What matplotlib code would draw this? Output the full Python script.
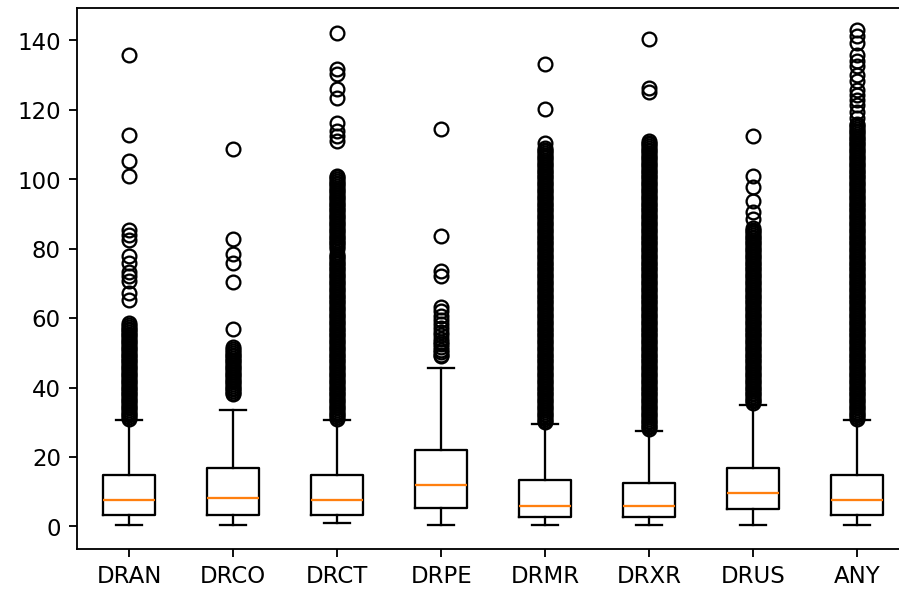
import matplotlib.pyplot as plt

# box statistics
labels = ['DRAN', 'DRCO', 'DRCT', 'DRPE', 'DRMR', 'DRXR', 'DRUS', 'ANY']
whislo = [0.4, 0.4, 1.1, 0.4, 0.4, 0.4, 0.4, 0.4]
q1 = [3.3, 3.3, 3.3, 5.3, 2.6, 2.6, 4.9, 3.3]
med = [7.6, 8.3, 7.6, 11.8, 6.0, 6.0, 9.7, 7.6]
q3 = [14.7, 16.8, 14.7, 21.9, 13.4, 12.6, 16.8, 14.7]
whishi = [30.6, 33.4, 30.6, 45.6, 29.5, 27.4, 34.9, 30.6]

# outliers (the solid columns are many close values)
fl_dran = [135.9, 112.8, 105.2, 100.8, 85.4, 84.0, 82.6, 77.8, 76.0, 73.4,
           72.0, 70.6, 67.2, 65.3,
           58.5, 58, 57.5, 57, 56.5, 56, 55.5, 55, 54.5, 54, 53.5, 53, 52.5,
           52, 51.5, 51, 50.5, 50, 49.5, 49, 48.5, 48, 47.5, 47, 46.5, 46,
           45.5, 45, 44.5, 44, 43.5, 43, 42.5, 42, 41.5, 41, 40.5, 40, 39.5,
           39, 38.5, 38, 37.5, 37, 36.5, 36, 35.5, 35, 34.5, 34, 33.5, 33,
           32.5, 32, 31.5, 31]
fl_drco = [108.7, 82.8, 78.6, 75.8, 70.4, 57.0,
           51.7, 51, 50.5, 50, 49.5, 49, 48.5, 48, 47.5, 47, 46.5, 46, 45.5,
           45, 44.5, 44, 43.5, 43, 42.5, 42, 41.5, 41, 40.5, 40, 39.5, 39,
           38.5, 38]
fl_drct = [142.0, 131.8, 130.3, 125.9, 123.5, 116.3, 113.9, 112.5, 111.0,
           101, 100.5, 100, 99.5, 99, 98.5, 98, 97.5, 97, 96.5, 96, 95.5, 95,
           94.5, 94, 93.5, 93, 92.5, 92, 91.5, 91, 90.5, 90, 89.5, 89, 88.5,
           88, 87.5, 87, 86.5, 86, 85.5, 85, 84.5, 84, 83.5, 83, 82.5, 82,
           81.5, 81, 80.5, 80, 78.5, 78, 77.5, 77, 76.5, 76, 75.5, 75, 74.5,
           74, 73.5, 73, 72.5, 72, 71.5, 71, 70.5, 70, 69.5, 69, 68.5, 68,
           67.5, 67, 66.5, 66, 65.5, 65, 64.5, 64, 63.5, 63, 62.5, 62, 61.5,
           61, 60.5, 60, 59.5, 59, 58.5, 58, 57.5, 57, 56.5, 56, 55.5, 55,
           54.5, 54, 53.5, 53, 52.5, 52, 51.5, 51, 50.5, 50, 49.5, 49, 48.5,
           48, 47.5, 47, 46.5, 46, 45.5, 45, 44.5, 44, 43.5, 43, 42.5, 42,
           41.5, 41, 40.5, 40, 39.5, 39, 38.5, 38, 37.5, 37, 36.5, 36, 35.5,
           35, 34.5, 34, 33.5, 33, 32.5, 32, 31.5, 31]
fl_drpe = [114.6, 83.6, 73.5, 72.1,
           63.3, 62.0, 60.6, 59.4, 58.2, 57.1, 56.0, 55.0, 54.0, 53.2, 52.4,
           51.6, 50.8, 50.1, 49.5, 49.0]
fl_drmr = [133.1, 120.1, 110.4,
           109, 108.5, 108, 107.5, 107, 106.5, 106, 105.5, 105, 104.5, 104,
           103.5, 103, 102.5, 102, 101.5, 101, 100.5, 100, 99.5, 99, 98.5,
           98, 97.5, 97, 96.5, 96, 95.5, 95, 94.5, 94, 93.5, 93, 92.5, 92,
           91.5, 91, 90.5, 90, 89.5, 89, 88.5, 88, 87.5, 87, 86.5, 86, 85.5,
           85, 84.5, 84, 83.5, 83, 82.5, 82, 81.5, 81, 80.5, 80, 79.5, 79,
           78.5, 78, 77.5, 77, 76.5, 76, 75.5, 75, 74.5, 74, 73.5, 73, 72.5,
           72, 71.5, 71, 70.5, 70, 69.5, 69, 68.5, 68, 67.5, 67, 66.5, 66,
           65.5, 65, 64.5, 64, 63.5, 63, 62.5, 62, 61.5, 61, 60.5, 60, 59.5,
           59, 58.5, 58, 57.5, 57, 56.5, 56, 55.5, 55, 54.5, 54, 53.5, 53,
           52.5, 52, 51.5, 51, 50.5, 50, 49.5, 49, 48.5, 48, 47.5, 47, 46.5,
           46, 45.5, 45, 44.5, 44, 43.5, 43, 42.5, 42, 41.5, 41, 40.5, 40,
           39.5, 39, 38.5, 38, 37.5, 37, 36.5, 36, 35.5, 35, 34.5, 34, 33.5,
           33, 32.5, 32, 31.5, 31, 30.5, 30]
fl_drxr = [140.3, 126.4, 125.0,
           111, 110.5, 110, 109.5, 109, 108.5, 108, 107.5, 107, 106.5, 106,
           105.5, 105, 104.5, 104, 103.5, 103, 102.5, 102, 101.5, 101, 100.5,
           100, 99.5, 99, 98.5, 98, 97.5, 97, 96.5, 96, 95.5, 95, 94.5, 94,
           93.5, 93, 92.5, 92, 91.5, 91, 90.5, 90, 89.5, 89, 88.5, 88, 87.5,
           87, 86.5, 86, 85.5, 85, 84.5, 84, 83.5, 83, 82.5, 82, 81.5, 81,
           80.5, 80, 79.5, 79, 78.5, 78, 77.5, 77, 76.5, 76, 75.5, 75, 74.5,
           74, 73.5, 73, 72.5, 72, 71.5, 71, 70.5, 70, 69.5, 69, 68.5, 68,
           67.5, 67, 66.5, 66, 65.5, 65, 64.5, 64, 63.5, 63, 62.5, 62, 61.5,
           61, 60.5, 60, 59.5, 59, 58.5, 58, 57.5, 57, 56.5, 56, 55.5, 55,
           54.5, 54, 53.5, 53, 52.5, 52, 51.5, 51, 50.5, 50, 49.5, 49, 48.5,
           48, 47.5, 47, 46.5, 46, 45.5, 45, 44.5, 44, 43.5, 43, 42.5, 42,
           41.5, 41, 40.5, 40, 39.5, 39, 38.5, 38, 37.5, 37, 36.5, 36, 35.5,
           35, 34.5, 34, 33.5, 33, 32.5, 32, 31.5, 31, 30.5, 30, 29.5, 29,
           28.5, 28]
fl_drus = [112.5, 100.8, 97.9, 93.6, 90.5, 88.5,
           86, 85.5, 85, 84.5, 84, 83.5, 83, 82.5, 82, 81.5, 81, 80.5, 80,
           79.5, 79, 78.5, 78, 77.5, 77, 76.5, 76, 75.5, 75, 74.5, 74, 73.5,
           73, 72.5, 72, 71.5, 71, 70.5, 70, 69.5, 69, 68.5, 68, 67.5, 67,
           66.5, 66, 65.5, 65, 64.5, 64, 63.5, 63, 62.5, 62, 61.5, 61, 60.5,
           60, 59.5, 59, 58.5, 58, 57.5, 57, 56.5, 56, 55.5, 55, 54.5, 54,
           53.5, 53, 52.5, 52, 51.5, 51, 50.5, 50, 49.5, 49, 48.5, 48, 47.5,
           47, 46.5, 46, 45.5, 45, 44.5, 44, 43.5, 43, 42.5, 42, 41.5, 41,
           40.5, 40, 39.5, 39, 38.5, 38, 37.5, 37, 36.5, 36, 35.5]
fl_any = [143.1, 141.2, 139.2, 135.9, 134.0, 132.5, 130.1, 128.2, 125.7,
          124.3, 122.9, 121.5, 119.5, 117.6,
          116, 115.5, 115, 114.5, 114, 113.5, 113, 112.5, 112, 111.5, 111,
          110.5, 110, 109.5, 109, 108.5, 108, 107.5, 107, 106.5, 106, 105.5,
          105, 104.5, 104, 103.5, 103, 102.5, 102, 101.5, 101, 100.5, 100,
          99.5, 99, 98.5, 98, 97.5, 97, 96.5, 96, 95.5, 95, 94.5, 94, 93.5,
          93, 92.5, 92, 91.5, 91, 90.5, 90, 89.5, 89, 88.5, 88, 87.5, 87,
          86.5, 86, 85.5, 85, 84.5, 84, 83.5, 83, 82.5, 82, 81.5, 81, 80.5,
          80, 79.5, 79, 78.5, 78, 77.5, 77, 76.5, 76, 75.5, 75, 74.5, 74,
          73.5, 73, 72.5, 72, 71.5, 71, 70.5, 70, 69.5, 69, 68.5, 68, 67.5,
          67, 66.5, 66, 65.5, 65, 64.5, 64, 63.5, 63, 62.5, 62, 61.5, 61,
          60.5, 60, 59.5, 59, 58.5, 58, 57.5, 57, 56.5, 56, 55.5, 55, 54.5,
          54, 53.5, 53, 52.5, 52, 51.5, 51, 50.5, 50, 49.5, 49, 48.5, 48,
          47.5, 47, 46.5, 46, 45.5, 45, 44.5, 44, 43.5, 43, 42.5, 42, 41.5,
          41, 40.5, 40, 39.5, 39, 38.5, 38, 37.5, 37, 36.5, 36, 35.5, 35,
          34.5, 34, 33.5, 33, 32.5, 32, 31.5, 31]
fliers = [fl_dran, fl_drco, fl_drct, fl_drpe, fl_drmr, fl_drxr, fl_drus, fl_any]

stats = []
for i in range(len(labels)):
    stats.append(dict(label=labels[i], whislo=whislo[i], q1=q1[i], med=med[i],
                      q3=q3[i], whishi=whishi[i], fliers=fliers[i]))

dpi = 165
fig = plt.figure(figsize=(899.3 / dpi, 593.3 / dpi), dpi=dpi)
# axes runs past the right edge, as in the cropped original
ax = fig.add_axes([77 / 899, 44 / 593, 832 / 899, 541 / 593])
ax.bxp(stats)
ax.set_xlim(0.5, 8.5)
ax.set_ylim(-6.5, 149.4)
ax.set_yticks([0, 20, 40, 60, 80, 100, 120, 140])

fig.savefig('out.png', dpi=dpi)
